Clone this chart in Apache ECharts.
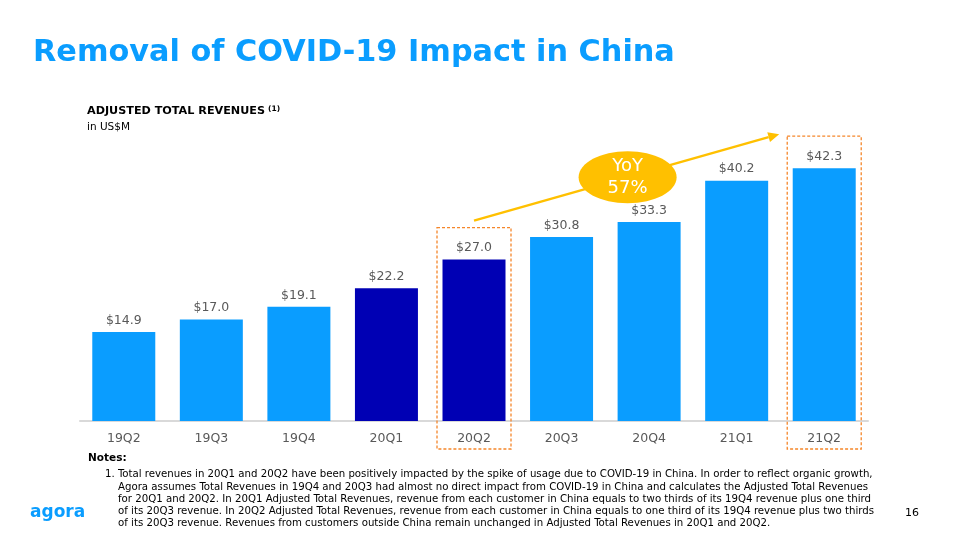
<!DOCTYPE html>
<html>
<head>
<meta charset="utf-8">
<script src="https://cdn.jsdelivr.net/npm/echarts@6/dist/echarts.min.js"></script>
<style>
  html, body { margin: 0; padding: 0; background: #fff; }
  #chart { width: 960px; height: 540px; }
</style>
</head>
<body>
<div id="chart"></div>
<script>
const categories = ['19Q2', '19Q3', '19Q4', '20Q1', '20Q2', '20Q3', '20Q4', '21Q1', '21Q2'];
const revenues = [14.9, 17.0, 19.1, 22.2, 27.0, 30.8, 33.3, 40.2, 42.3];
const adjustedQuarters = ['20Q1', '20Q2'];
const highlightedQuarters = ['20Q2', '21Q2'];
const yoyText = 'YoY\n57%';
const titleText = 'Removal of COVID-19 Impact in China';
const subtitleText = 'ADJUSTED TOTAL REVENUES';
const subtitleSup = '(1)';
const unitText = 'in US$M';
const notesTitle = 'Notes:';
const noteNumber = '1.';
const noteLines = [
  'Total revenues in 20Q1 and 20Q2 have been positively impacted by the spike of usage due to COVID-19 in China. In order to reflect organic growth,',
  'Agora assumes Total Revenues in 19Q4 and 20Q3 had almost no direct impact from COVID-19 in China and calculates the Adjusted Total Revenues',
  'for 20Q1 and 20Q2. In 20Q1 Adjusted Total Revenues, revenue from each customer in China equals to two thirds of its 19Q4 revenue plus one third',
  'of its 20Q3 revenue. In 20Q2 Adjusted Total Revenues, revenue from each customer in China equals to one third of its 19Q4 revenue plus two thirds',
  'of its 20Q3 revenue. Revenues from customers outside China remain unchanged in Adjusted Total Revenues in 20Q1 and 20Q2.'
];
const pageNumber = '16';
const logoText = 'agora';

const LIGHT = '#0A9DFF';
const DARK = '#0000B4';
const ORANGE = '#F5862A';
const GOLD = '#FFC000';
const FONT = 'DejaVu Sans';

const mctx = document.createElement('canvas').getContext('2d');
function fitSize(text, weight, family, targetWidth) {
  mctx.font = weight + ' 100px ' + family;
  return 100 * targetWidth / mctx.measureText(text).width;
}

const chart = echarts.init(document.getElementById('chart'), null, { renderer: 'canvas' });

const option = {
  animation: false,
  backgroundColor: '#ffffff',
  grid: { left: 80, right: 92, top: 152, bottom: 119 },
  xAxis: {
    type: 'category',
    data: categories,
    axisLine: { lineStyle: { color: '#D9D9D9', width: 2 } },
    axisTick: { show: false },
    axisLabel: { color: '#595959', fontFamily: FONT, fontSize: 12.5, margin: 11 }
  },
  yAxis: {
    type: 'value', min: 0, max: 45, show: false,
    splitLine: { show: false }
  },
  series: [{
    type: 'bar',
    barWidth: 63,
    data: revenues.map((v, i) => ({
      value: v,
      itemStyle: { color: adjustedQuarters.includes(categories[i]) ? DARK : LIGHT }
    })),
    label: {
      show: true, position: 'top', distance: 5,
      color: '#595959', fontFamily: FONT, fontSize: 12.5,
      formatter: p => '$' + p.value.toFixed(1)
    }
  }],
  graphic: []
};
chart.setOption(option);

function buildGraphics() {
  const g = [];
  const titleSize = fitSize(titleText, 'bold', '"DejaVu Sans"', 642);
  g.push({ type: 'text', left: 33, top: 38, style: { text: titleText, fill: '#0A9DFF', font: 'bold ' + titleSize.toFixed(2) + 'px "DejaVu Sans"' } });
  const subSize = fitSize(subtitleText, 'bold', '"DejaVu Sans"', 178);
  g.push({ type: 'text', left: 87, top: 106, style: { text: subtitleText, fill: '#000', font: 'bold ' + subSize.toFixed(2) + 'px "DejaVu Sans"' } });
  g.push({ type: 'text', left: 268, top: 105, style: { text: subtitleSup, fill: '#000', font: 'bold 7.5px "DejaVu Sans"' } });
  g.push({ type: 'text', left: 87, top: 122, style: { text: unitText, fill: '#000', font: '10.5px "DejaVu Sans"' } });
  g.push({ type: 'text', left: 88, top: 453, style: { text: notesTitle, fill: '#000', font: 'bold 10.5px "DejaVu Sans"' } });

  const noteFam = '"DejaVu Sans Condensed", "DejaVu Sans"';
  const noteSize = fitSize(noteLines[0], 'normal', noteFam, 873 - 118);
  const nf = noteSize.toFixed(2) + 'px ' + noteFam;
  g.push({ type: 'text', left: 105, top: 469, style: { text: noteNumber, fill: '#000', font: nf } });
  noteLines.forEach((line, i) => {
    g.push({ type: 'text', left: 118, top: 469 + i * 12.2, style: { text: line, fill: '#000', font: nf } });
  });
  g.push({ type: 'text', left: 905, top: 508, style: { text: pageNumber, fill: '#000', font: '11px "DejaVu Sans"' } });
  g.push({ type: 'text', left: 30, top: 504, style: { text: logoText, fill: '#0A9DFF', font: 'bold 17px "DejaVu Sans"' } });

  highlightedQuarters.forEach(q => {
    const idx = categories.indexOf(q);
    const top = chart.convertToPixel({ gridIndex: 0 }, [q, revenues[idx]]);
    const cx = top[0];
    g.push({
      type: 'rect', z: 10,
      shape: { x: cx - 37, y: top[1] - 32, width: 74, height: 449 - (top[1] - 32) },
      style: { fill: 'none', stroke: ORANGE, lineWidth: 1.3, lineDash: [3, 2] }
    });
  });

  const p20 = chart.convertToPixel({ gridIndex: 0 }, ['20Q2', revenues[categories.indexOf('20Q2')]]);
  const p21 = chart.convertToPixel({ gridIndex: 0 }, ['21Q2', revenues[categories.indexOf('21Q2')]]);
  const x1 = p20[0], y1 = p20[1] - 39;
  const x2 = p21[0] - 45, y2 = p21[1] - 34;
  const ang = Math.atan2(y2 - y1, x2 - x1);
  const headLen = 11, headW = 5;
  const bx = x2 - headLen * Math.cos(ang), by = y2 - headLen * Math.sin(ang);
  g.push({ type: 'line', z: 11, shape: { x1: x1, y1: y1, x2: bx, y2: by }, style: { stroke: GOLD, lineWidth: 2.5 } });
  g.push({
    type: 'polygon', z: 11,
    shape: { points: [[x2, y2], [bx + headW * Math.sin(ang), by - headW * Math.cos(ang)], [bx - headW * Math.sin(ang), by + headW * Math.cos(ang)]] },
    style: { fill: GOLD }
  });
  const t = 0.5;
  const ex = x1 + (x2 - x1) * t + 1, ey = y1 + (y2 - y1) * t;
  g.push({ type: 'ellipse', z: 12, shape: { cx: ex, cy: ey, rx: 49, ry: 26 }, style: { fill: GOLD } });
  g.push({ type: 'text', z: 13, x: ex, y: ey, style: { text: yoyText, fill: '#fff', font: '18px "DejaVu Sans"', align: 'center', verticalAlign: 'middle', lineHeight: 22 } });
  return g;
}
chart.setOption({ graphic: buildGraphics() });
</script>
</body>
</html>
